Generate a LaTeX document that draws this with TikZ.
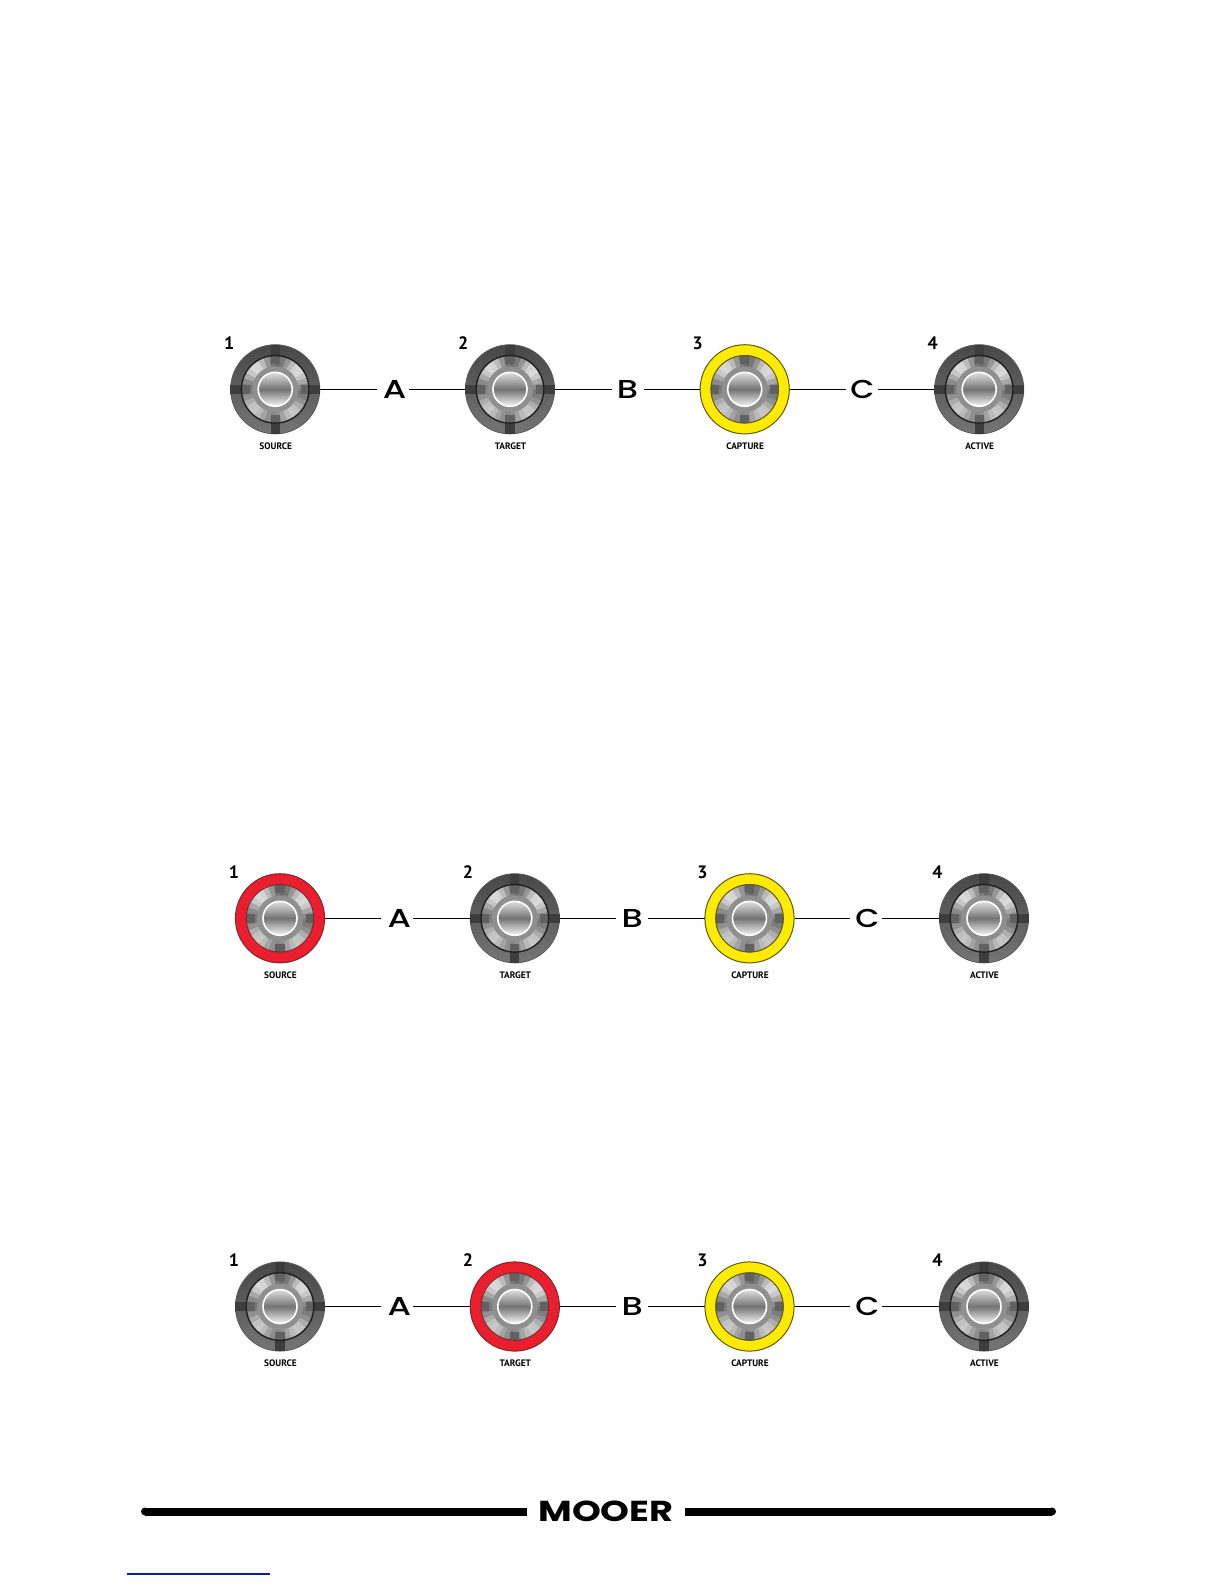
\documentclass[tikz,border=0pt]{standalone}
\usepackage{fontspec}
\usepackage{xcolor}
\usetikzlibrary{positioning}
\newfontfamily\capfont{PT Sans}
\newfontfamily\wideFont{Poppins Medium}
\newfontfamily\logoFont{Poppins}

\definecolor{swyellow}{HTML}{FFEB00}
\definecolor{swyellowedge}{HTML}{5E5A10}
\definecolor{swred}{HTML}{EB1E2D}
\definecolor{swrededge}{HTML}{7A2A2E}
\definecolor{linkblue}{HTML}{0A1E96}

\tikzset{
	swnode/.style={circle, minimum size=45bp, inner sep=0pt, outer sep=0pt},
	letternode/.style={minimum width=16bp, minimum height=9bp, inner sep=0pt, outer sep=0pt, font=\wideFont\fontsize{13}{13}\selectfont},
	numnode/.style={inner sep=0pt, font=\capfont\bfseries\fontsize{9}{9}\selectfont},
	capnode/.style={inner sep=0pt, font=\capfont\bfseries\fontsize{4.7}{5}\selectfont},
	link/.style={line width=0.75bp, black},
	ringoff/.style={shade, shading angle=25, top color=black!72, bottom color=black!54, draw=black!65, line width=0.4bp},
	ringyellow/.style={fill=swyellow, draw=swyellowedge, line width=0.5bp},
	ringred/.style={fill=swred, draw=swrededge, line width=0.5bp},
	tabringoff/.style={fill=black!76},
	tabringyellow/.style={fill=none},
	tabringred/.style={fill=none},
	edgeringoff/.style={draw=black!88, line width=0.7bp},
	edgeringyellow/.style={draw=swyellowedge, line width=0.5bp},
	edgeringred/.style={draw=swrededge, line width=0.5bp},
	logobar/.style={line width=4bp, black}
}

% one foot switch: name, x offset, ring style
\newcommand{\footsw}[3]{
	\node[swnode] (#1) at (#2,0) {};
	\begin{scope}[shift={(#2,0)}]
		\path[#3] (0,0) circle (44.6);
		\foreach \a in {0,90,180,270}
			\fill[tab#3, rotate=\a] (33,-4.6) rectangle (44.8,4.6);
		\begin{scope}
			\clip (0,0) circle (34);
			\foreach \a in {0,10,...,350} {
				\pgfmathsetmacro\lv{int(36+17*cos(4*\a)+5*sin(3*\a))}
				\fill[black!\lv] (0,0) -- (\a-0.6:36) -- (\a+10.6:36) -- cycle;
			}
			\foreach \a in {0,90,180,270}
				\fill[black!62, rotate=\a] (25.5,-4.6) rectangle (34,4.6);
		\end{scope}
		\draw[edge#3] (0,0) circle (33.8);
		\fill[black!44] (0,0) circle (23);
		\shade[top color=black!12, bottom color=black!3, middle color=black!55, draw=white, line width=0.8bp] (0,0) circle (17);
	\end{scope}
}

% one row of four switches with the letters between them
\newcommand{\swrow}[7]{
	\begin{scope}[shift={(#2,#3)}]
		\footsw{#1a}{0}{#4}
		\footsw{#1b}{234.8}{#5}
		\footsw{#1c}{469.5}{#6}
		\footsw{#1d}{704}{#7}
		\node[letternode] (#1la) at (117.3,0) {\hspace*{2bp}\scalebox{1.3}[1]{A}};
		\node[letternode] (#1lb) at (352.3,0) {\scalebox{1.3}[1]{B}};
		\node[letternode] (#1lc) at (586.3,0) {\hspace*{1bp}\scalebox{1.2}[1]{C}};
		\draw[link] (#1a) -- (#1la) -- (#1b) -- (#1lb) -- (#1c) -- (#1lc) -- (#1d);
		\node[numnode] at (-46,-46) {1};
		\node[numnode] at (188,-46) {2};
		\node[numnode] at (422.5,-46) {3};
		\node[numnode] at (657.5,-46) {4};
		\node[capnode] at (0.5,57) {SOURCE};
		\node[capnode] at (235.3,57) {TARGET};
		\node[capnode] at (470,57) {CAPTURE};
		\node[capnode] at (704.5,57) {ACTIVE};
	\end{scope}
}

\begin{document}
\begin{tikzpicture}[x=0.5bp, y=-0.5bp]
	\useasboundingbox (0,0) rectangle (1224,1584);
	
	\swrow{top}{275.2}{389.3}{ringoff}{ringoff}{ringyellow}{ringoff}
	\swrow{mid}{280}{918.3}{ringred}{ringoff}{ringyellow}{ringoff}
	\swrow{low}{280}{1306.5}{ringoff}{ringred}{ringyellow}{ringoff}
	
	% footer
	\node[minimum width=79bp, minimum height=10bp, inner sep=0pt, outer sep=0pt, font=\logoFont\bfseries\fontsize{14.5}{15}\selectfont] (logo) at (606,1511.5) {\scalebox{1.27}[1]{MOOER}};
	\coordinate (barleft) at (145,1511.5);
	\coordinate (barright) at (1052,1511.5);
	\draw[logobar] (barleft) -- (logo);
	\draw[logobar] (barright) -- (logo);
	\fill (barleft) circle (4);
	\fill (barright) circle (4);
	
	\coordinate (urlleft) at (127,1574);
	\coordinate (urlright) at (270,1574);
	\draw[linkblue, line width=0.7bp] (urlleft) -- (urlright);
\end{tikzpicture}
\end{document}
